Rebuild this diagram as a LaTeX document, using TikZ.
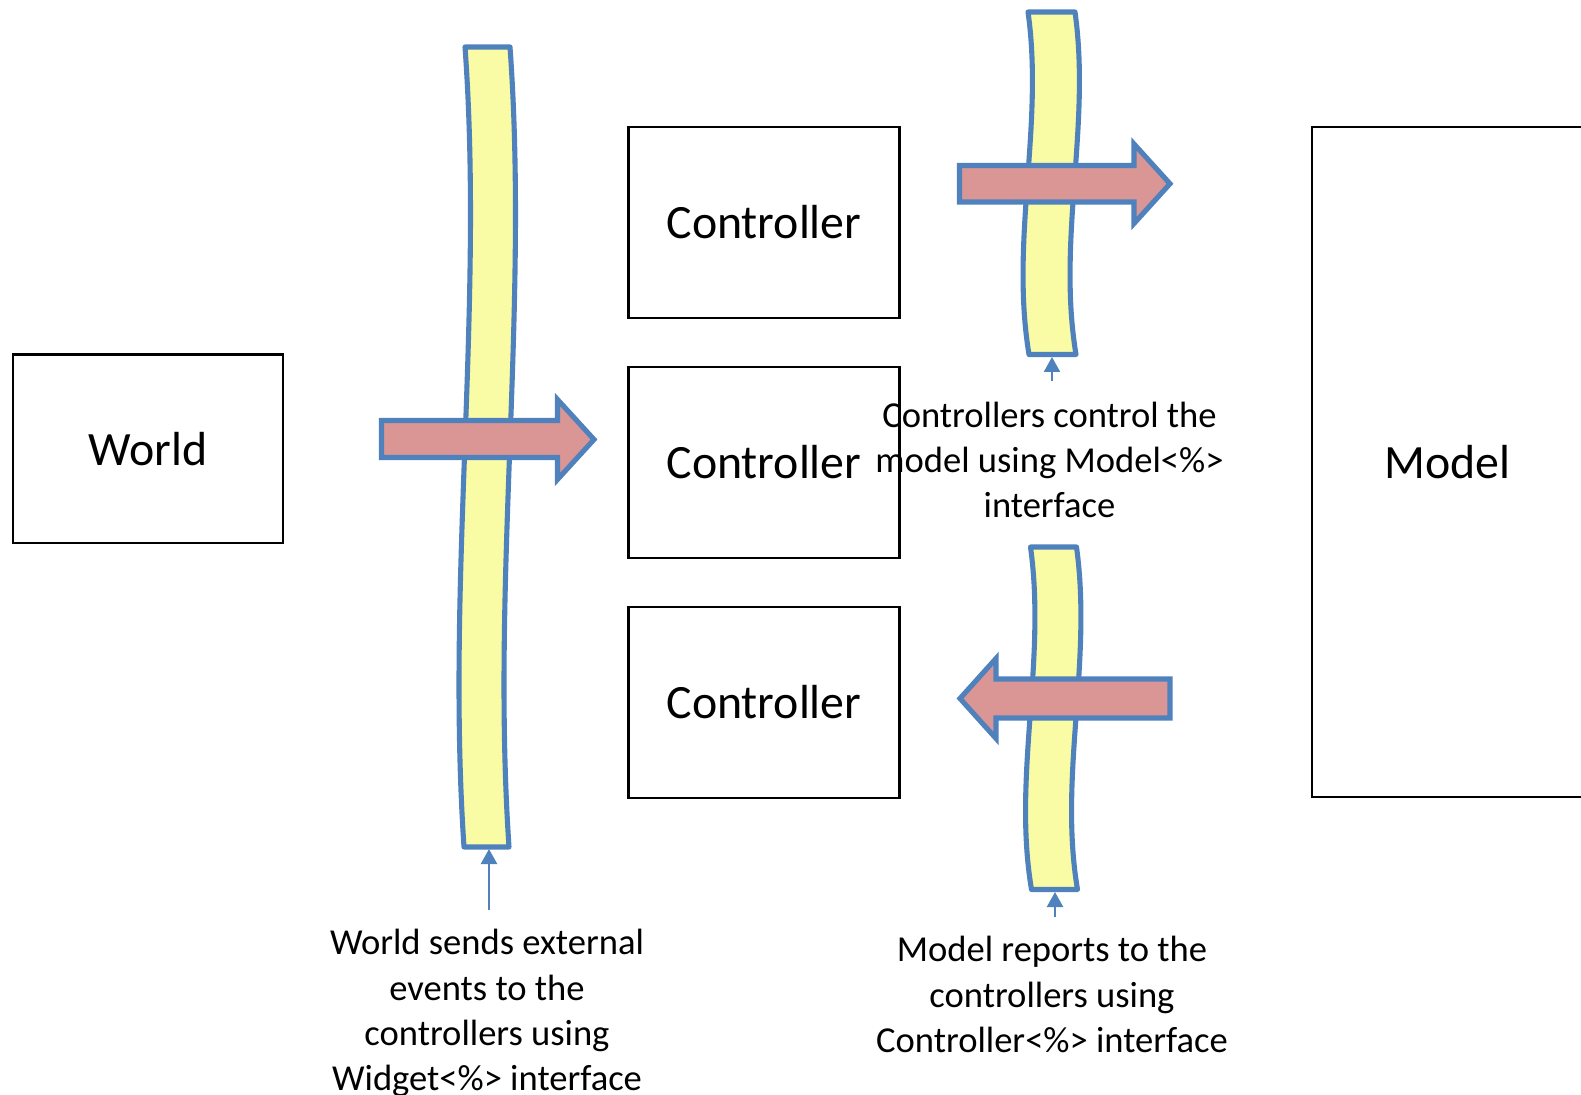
\documentclass[tikz,border=0pt]{standalone}
\usepackage{fontspec}
\setmainfont{Carlito}
\usetikzlibrary{arrows.meta}
\definecolor{pipeblue}{HTML}{4F81BD}
\definecolor{pipefill}{HTML}{F9FBA5}
\definecolor{arrowfill}{HTML}{D99694}
\begin{document}
\begin{tikzpicture}[x=0.01cm,y=-0.01cm,
  box/.style={draw=black,line width=0.65pt,rectangle,inner sep=0pt,
    font=\fontsize{13.6}{16}\selectfont},
  band/.style={draw=pipeblue,fill=pipefill,line width=1.45pt,line join=round},
  fat/.style={draw=pipeblue,fill=arrowfill,line width=1.45pt,line join=miter},
  pointer/.style={draw=pipeblue,line width=0.65pt,
    -{Triangle[width=0.16cm,length=0.15cm]}},
  note/.style={align=center,inner sep=0pt,
    font=\fontsize{10.4}{12.9}\selectfont}]
\useasboundingbox (0,0) rectangle (1581,1095);

% the actors
\node[box,minimum width=2.70cm,minimum height=1.885cm] (world) at (148,448.75) {World};
\node[box,minimum width=2.71cm,minimum height=1.91cm] (ctrlA) at (764,222.5) {Controller};
\node[box,minimum width=2.71cm,minimum height=1.91cm] (ctrlB) at (764,462.5) {Controller};
\node[box,minimum width=2.71cm,minimum height=1.91cm] (ctrlC) at (764,702.5) {Controller};
\node[box,minimum width=2.71cm,minimum height=6.697cm] (model) at (1447.5,462.2) {Model};

% interface bands
\draw[band] (465,47) .. controls (484,310) and (446,580) .. (464,847)
  -- (509,847) .. controls (491,580) and (529,310) .. (510,47) -- cycle;
\coordinate (footA) at (489,849);
\draw[band] (1028,12) .. controls (1044,125) and (1010,240) .. (1029,354.5)
  -- (1076,354.5) .. controls (1057,240) and (1091,125) .. (1075,12) -- cycle;
\coordinate (footB) at (1052,357);
\draw[band] (1030.5,547) .. controls (1046.5,662) and (1012.5,777) .. (1031.5,889.5)
  -- (1077.5,889.5) .. controls (1058.5,777) and (1092.5,662) .. (1076.5,547) -- cycle;
\coordinate (footC) at (1055,892);

% block arrows crossing the bands
\draw[fat] (381.5,420.5) -- (557.5,420.5) -- (557.5,399.5) -- (594,439.5)
  -- (557.5,479.5) -- (557.5,457.5) -- (381.5,457.5) -- cycle;
\draw[fat] (959.5,165.5) -- (1134,165.5) -- (1134,144) -- (1170,183.75)
  -- (1134,223.5) -- (1134,202) -- (959.5,202) -- cycle;
\draw[fat] (1170,679) -- (996,679) -- (996,658.5) -- (960,698.5)
  -- (996,738.5) -- (996,718) -- (1170,718) -- cycle;

% explanations (anchored on the baseline of their last line)
\node[note,anchor=base] (noteA) at (487,1091)
  {World sends external\\events to the\\controllers using\\Widget<\%> interface};
\node[note,anchor=base] (noteB) at (1049.5,518)
  {Controllers control the\\model using Model<\%>\\interface};
\node[note,anchor=base] (noteC) at (1052,1052.5)
  {Model reports to the\\controllers using\\Controller<\%> interface};

\coordinate (tailA) at (489,910);
\coordinate (tailB) at (1052,381);
\coordinate (tailC) at (1055,917);
\draw[pointer] (tailA) -- (footA);
\draw[pointer] (tailB) -- (footB);
\draw[pointer] (tailC) -- (footC);
\end{tikzpicture}
\end{document}
